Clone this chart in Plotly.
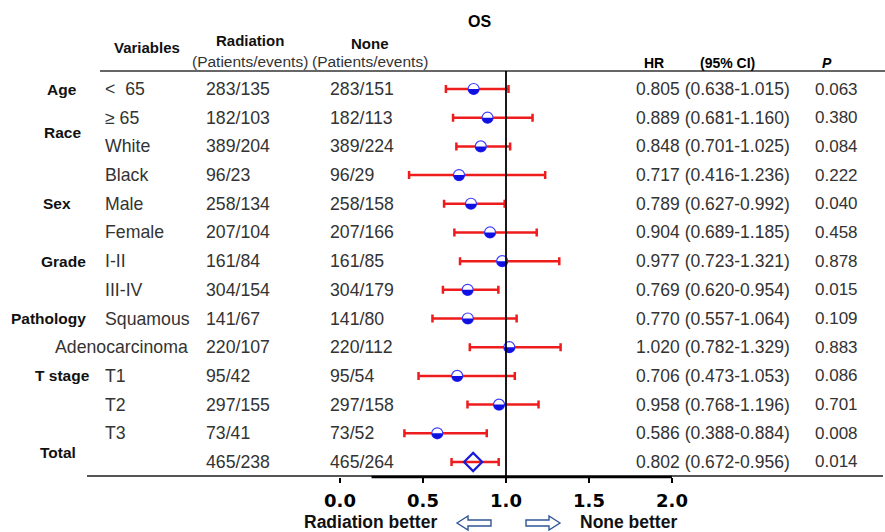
import numpy as np
import plotly.graph_objects as go

# ---------------- data ----------------
groups = ["Age", "Race", "Sex", "Grade", "Pathology", "T stage", "Total"]
group_rows = [1, 2.5, 5, 7, 9, 11, 13.67]
subgroups = ["<  65", "\u2265 65", "White", "Black", "Male", "Female", "I-II", "III-IV",
             "Squamous", "Adenocarcinoma", "T1", "T2", "T3", ""]
radiation = ["283/135", "182/103", "389/204", "96/23", "258/134", "207/104", "161/84",
             "304/154", "141/67", "220/107", "95/42", "297/155", "73/41", "465/238"]
none_grp = ["283/151", "182/113", "389/224", "96/29", "258/158", "207/166", "161/85",
            "304/179", "141/80", "220/112", "95/54", "297/158", "73/52", "465/264"]
hr = [0.805, 0.889, 0.848, 0.717, 0.789, 0.904, 0.977, 0.769, 0.770, 1.020, 0.706, 0.958, 0.586, 0.802]
lo = [0.638, 0.681, 0.701, 0.416, 0.627, 0.689, 0.723, 0.620, 0.557, 0.782, 0.473, 0.768, 0.388, 0.672]
hi = [1.015, 1.160, 1.025, 1.236, 0.992, 1.185, 1.321, 0.954, 1.064, 1.329, 1.053, 1.196, 0.884, 0.956]
pval = ["0.063", "0.380", "0.084", "0.222", "0.040", "0.458", "0.878", "0.015", "0.109",
        "0.883", "0.086", "0.701", "0.008", "0.014"]
tick_vals = [0.0, 0.5, 1.0, 1.5, 2.0]
tick_text = ["0.0", "0.5", "1.0", "1.5", "2.0"]

# ---------------- layout helpers ----------------
W, H = 885, 532
AX_Y = 477                     # pixel row of x axis
ROW1_PX, ROW_STEP = 89.0, 28.69
X0_PX, X2_PX = 340.0, 672.0    # pixel of x=0 and x=2

def xp(px):
    return px / W

def yp(py):
    return 1 - py / H

ux = 2.0 / (X2_PX - X0_PX)
x_range = [-X0_PX * ux, (W - X0_PX) * ux]
y_top = 1 + (0 - ROW1_PX) / ROW_STEP
y_bot = 1 + (AX_Y - ROW1_PX) / ROW_STEP

rows = list(range(1, len(hr) + 1))
n_sub = len(hr) - 1

FONT = "Liberation Sans"
TXT = "#333333"

fig = go.Figure()

# error bars + markers (subgroups)
err_plus = [h2 - h1 for h1, h2 in zip(hr, hi)]
err_minus = [h1 - l1 for h1, l1 in zip(hr, lo)]
fig.add_trace(go.Scatter(
    x=hr[:n_sub], y=rows[:n_sub], mode="markers",
    marker=dict(symbol="circle", size=11, color="white",
                line=dict(color="#3b3bff", width=1.2)),
    error_x=dict(type="data", array=err_plus[:n_sub], arrayminus=err_minus[:n_sub],
                 color="#ee1c1c", thickness=2.5, width=4),
    showlegend=False, hoverinfo="skip"))
# total
fig.add_trace(go.Scatter(
    x=hr[n_sub:], y=rows[n_sub:], mode="markers",
    marker=dict(symbol="diamond-open", size=14, color="#1a1ad6",
                line=dict(color="#1a1ad6", width=2.2)),
    error_x=dict(type="data", array=err_plus[n_sub:], arrayminus=err_minus[n_sub:],
                 color="#ee1c1c", thickness=2.5, width=4),
    showlegend=False, hoverinfo="skip"))

shapes = []
# half-filled marker bottoms
r = 5.5
th = np.linspace(0, np.pi, 25)
half = "M " + " L ".join(f"{r*np.cos(t):.2f},{-r*np.sin(t):.2f}" for t in th) + " Z"
for xv, yv in zip(hr[:n_sub], rows[:n_sub]):
    shapes.append(dict(type="path", xref="x", yref="y", xsizemode="pixel", ysizemode="pixel",
                       xanchor=xv, yanchor=yv, path=half, fillcolor="#1010e0",
                       line=dict(width=0)))

# header line, bottom line, axis line, reference line
shapes.append(dict(type="line", xref="paper", yref="paper", x0=xp(100), x1=xp(885),
                   y0=yp(71), y1=yp(71), line=dict(color="#333333", width=1.6)))
shapes.append(dict(type="line", xref="paper", yref="paper", x0=xp(87), x1=xp(883),
                   y0=yp(476), y1=yp(476), line=dict(color="#555555", width=2)))
shapes.append(dict(type="line", xref="x", yref="paper", x0=0.19, x1=2.0,
                   y0=yp(AX_Y), y1=yp(AX_Y), line=dict(color="black", width=2.5)))
shapes.append(dict(type="line", xref="x", yref="paper", x0=1.0, x1=1.0,
                   y0=yp(71), y1=yp(AX_Y), line=dict(color="black", width=1.8)))

# hollow arrows
def arrow(tip, tail, yc, head_len=11, head_h=7, body_h=3):
    d = 1 if tail > tip else -1
    base = tip + d * head_len
    pts = [(tip, yc), (base, yc - head_h), (base, yc - body_h), (tail, yc - body_h),
           (tail, yc + body_h), (base, yc + body_h), (base, yc + head_h)]
    return "M " + " L ".join(f"{xp(a):.5f},{yp(b):.5f}" for a, b in pts) + " Z"

for tip, tail in [(457, 491), (560, 526)]:
    shapes.append(dict(type="path", xref="paper", yref="paper", path=arrow(tip, tail, 523),
                       line=dict(color="#2f5597", width=1.4), fillcolor="rgba(0,0,0,0)"))

ann = []
def T(text, x, y, size=15, bold=False, color=TXT, anchor="left", yref="paper", italic=False):
    t = text
    if bold:
        t = f"<b>{t}</b>"
    if italic:
        t = f"<i>{t}</i>"
    ann.append(dict(text=t, x=x, y=y, xref="paper", yref=yref, xanchor=anchor,
                    yanchor="middle", showarrow=False,
                    font=dict(family=FONT, size=size, color=color)))

# headers
T("OS", xp(479), yp(22), size=16, bold=True, color="black", anchor="center")
T("Variables", xp(147), yp(47), size=15, bold=True, color="#111", anchor="center")
T("Radiation", xp(250), yp(40), size=15, bold=True, color="#111", anchor="center")
T("(Patients/events)", xp(250), yp(61), size=15.5, color=TXT, anchor="center")
T("None", xp(370), yp(44), size=15, bold=True, color="#111", anchor="center")
T("(Patients/events)", xp(370), yp(62), size=15.5, color=TXT, anchor="center")
T("HR", xp(654), yp(63), size=14, bold=True, color="black", anchor="center")
T("(95% CI)", xp(727), yp(63), size=14, bold=True, color="black", anchor="center")
T("P", xp(827), yp(63), size=14, bold=True, italic=True, color="black", anchor="center")

# group labels
group_x = [62, 62, 57, 63, 48, 62, 58]
for g, gr, gx in zip(groups, group_rows, group_x):
    T(g, xp(gx), gr, size=15.5, bold=True, color="#111", anchor="center", yref="y")

# rows
for i, rw in enumerate(rows):
    sx = 53 if subgroups[i] == "Adenocarcinoma" else 103
    if subgroups[i]:
        T(subgroups[i], xp(sx), rw, size=17.7, yref="y")
    T(radiation[i], xp(204), rw, size=17.7, yref="y")
    T(none_grp[i], xp(328), rw, size=17.7, yref="y")
    T(f"{hr[i]:.3f} ({lo[i]:.3f}-{hi[i]:.3f})", xp(634), rw, size=17.5, yref="y")
    T(pval[i], xp(813), rw, size=17, yref="y")

# bottom labels
T("Radiation better", xp(370), yp(522), size=17.5, bold=True, color="#111", anchor="center")
T("None better", xp(628), yp(522), size=17.5, bold=True, color="#111", anchor="center")

fig.update_layout(
    width=W, height=H, margin=dict(l=0, r=0, t=0, b=0),
    paper_bgcolor="white", plot_bgcolor="white",
    shapes=shapes, annotations=ann,
    xaxis=dict(range=x_range, domain=[0, 1], tickvals=tick_vals, ticktext=tick_text,
               ticks="outside", ticklen=5, tickwidth=2, tickcolor="black",
               showline=False, showgrid=False, zeroline=False,
               tickfont=dict(family="DejaVu Sans", size=18, color="black", weight="bold"),
               ticklabelstandoff=2),
    yaxis=dict(range=[y_bot, y_top], domain=[1 - AX_Y / H, 1], visible=False,
               showgrid=False, zeroline=False),
)

fig.write_html("out.html", config={"displayModeBar": False},
               post_script="document.body.style.margin='0px';document.body.style.overflow='hidden';")
